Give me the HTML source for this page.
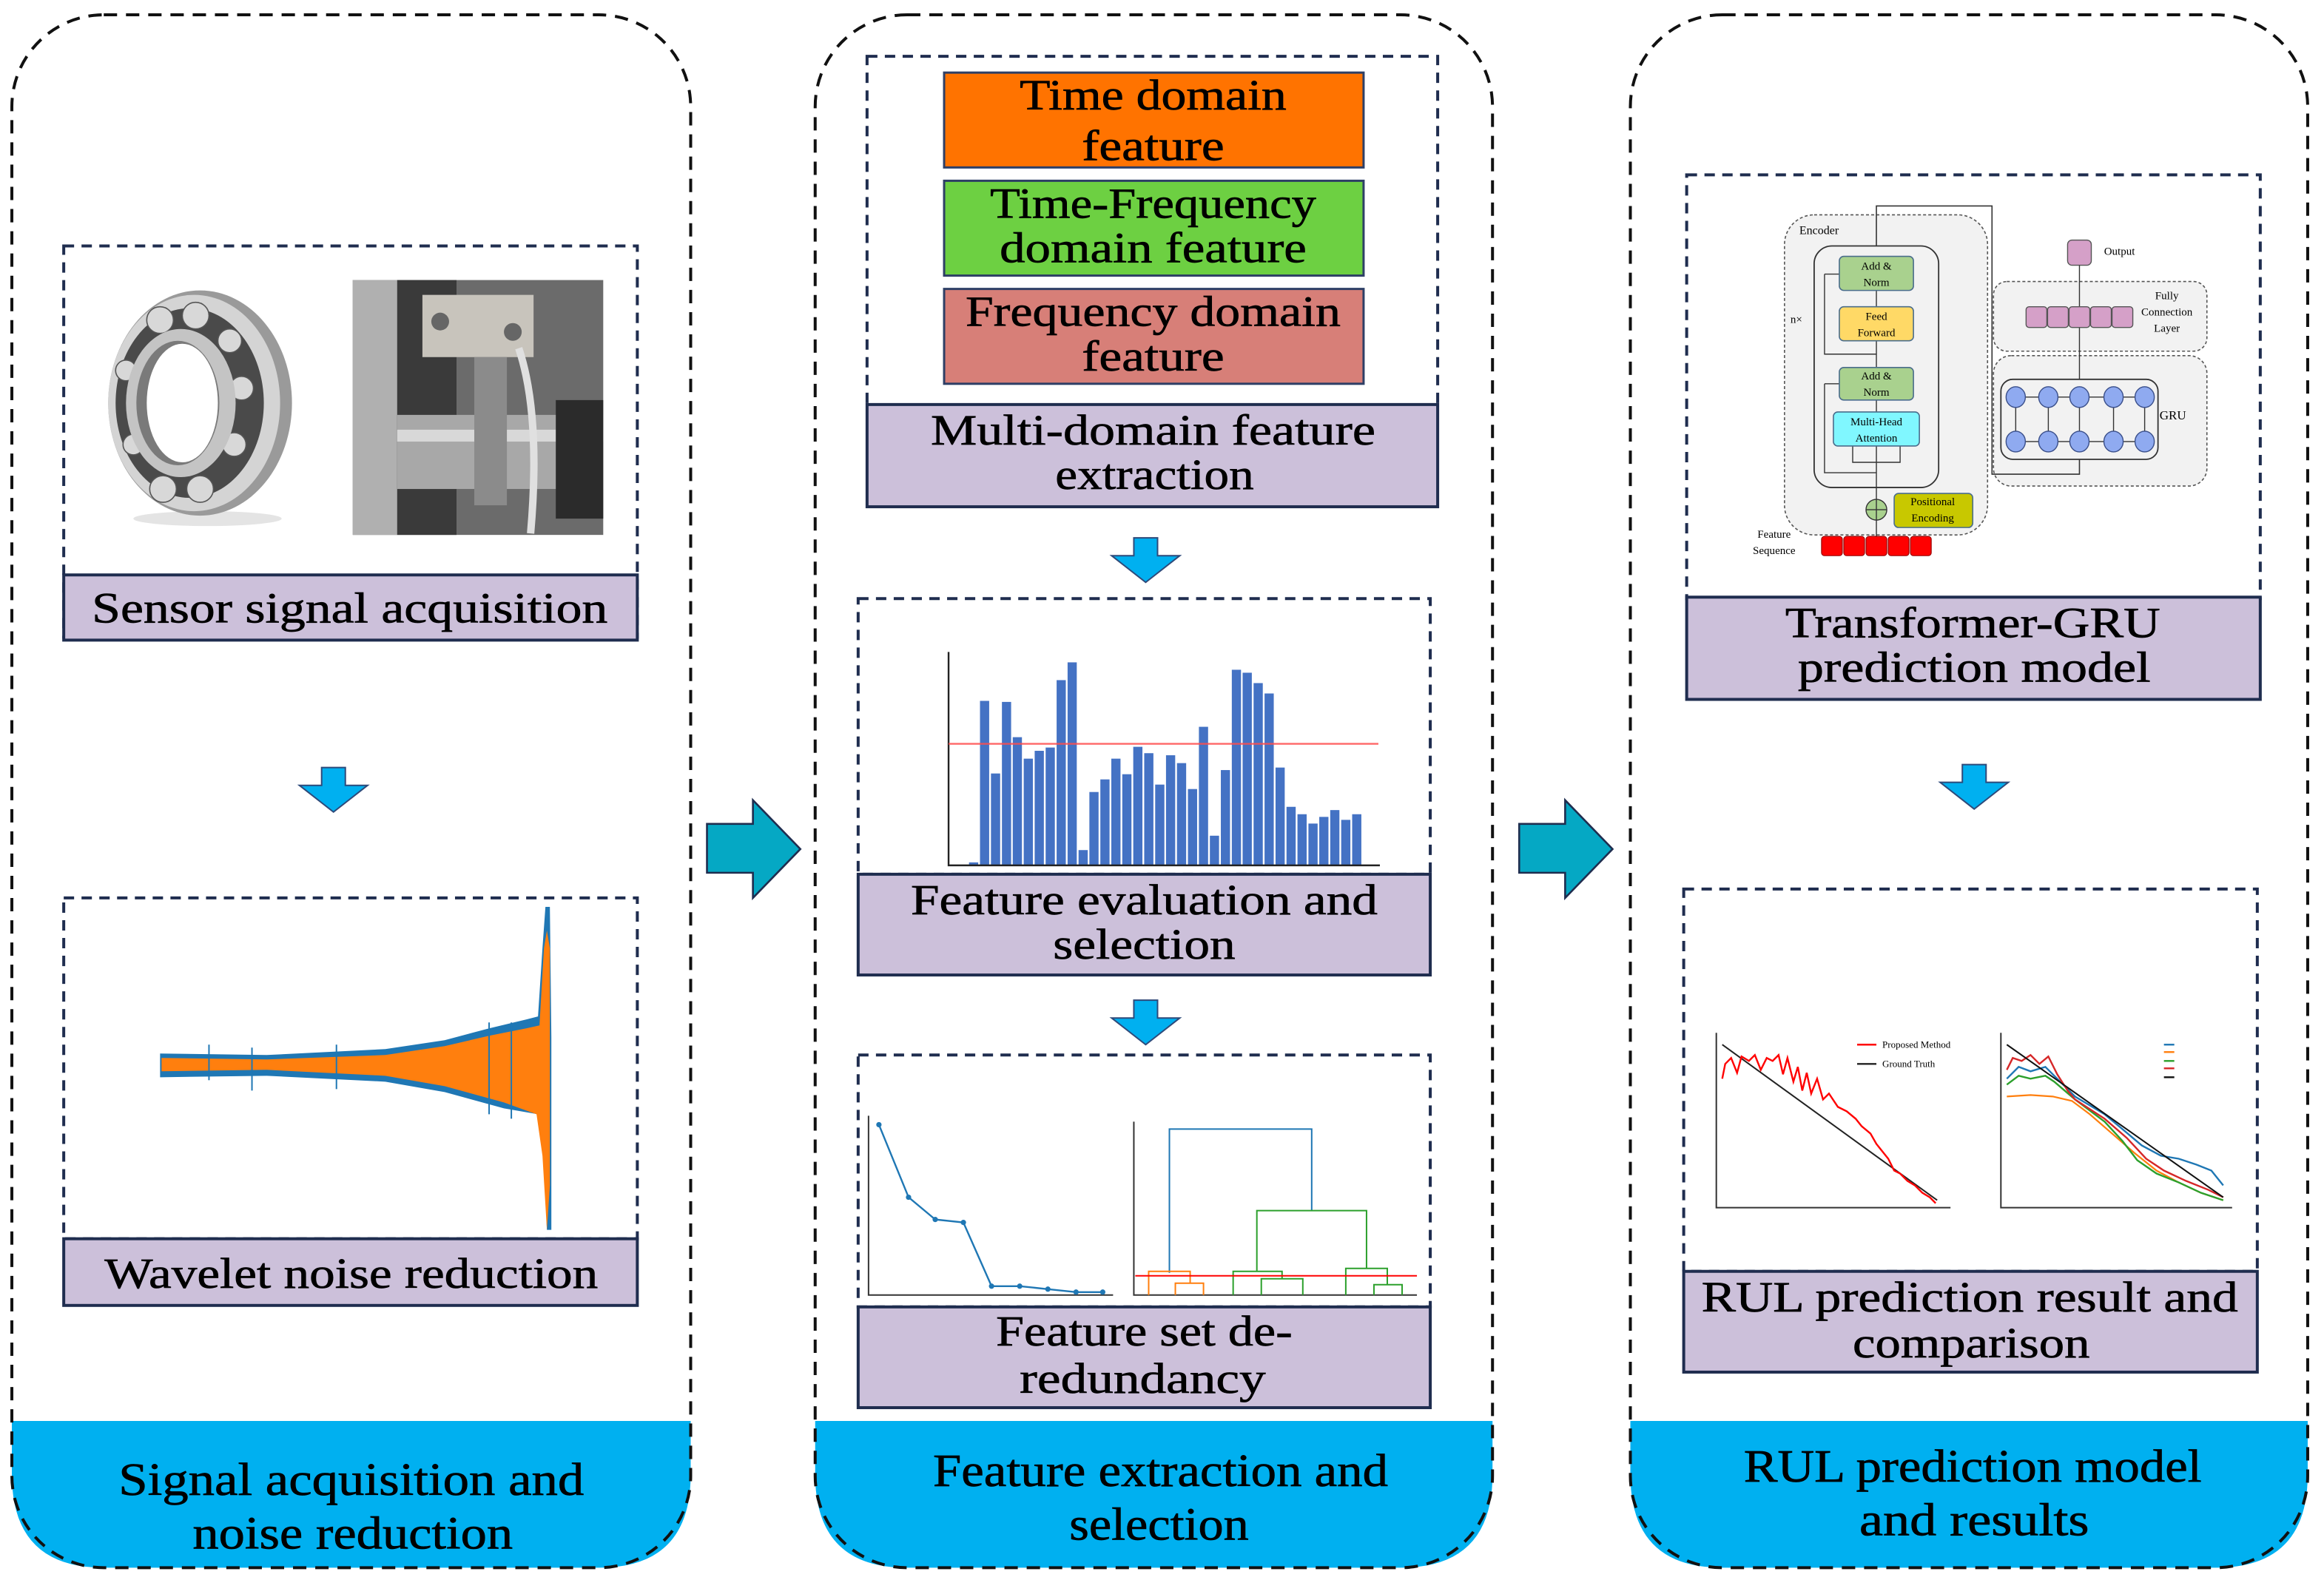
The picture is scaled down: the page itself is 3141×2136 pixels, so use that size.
<!DOCTYPE html>
<html><head><meta charset="utf-8"><style>
html,body{margin:0;padding:0;background:#fff;}
svg{display:block;}
text{font-family:"Liberation Serif",serif;fill:#000;}
text[font-size="29"],text[font-size="31"]{stroke:#000;stroke-width:0.35;}
</style></head><body>
<svg width="3141" height="2136" viewBox="0 0 1568 1066.3" preserveAspectRatio="none" xmlns="http://www.w3.org/2000/svg">
<defs>
<g id="dn"><path d="M-8,0 H8 V12 H23 L0,30 L-23,12 H-8 Z" fill="#00b0f0" stroke="#2e4a7a" stroke-width="1"/></g>
<g id="rt"><path d="M0,16 H31 V0 L63,33 L31,66 V49 H0 Z" fill="#05a8c4" stroke="#1f2d4f" stroke-width="1.3"/></g>
</defs>

<g>
<path d="M8,959 H466 V995 Q466,1058 404,1058 H70 Q8,1058 8,995 Z" fill="#00b0f0"/>
<path d="M550,959 H1007 V995 Q1007,1058 945,1058 H612 Q550,1058 550,995 Z" fill="#00b0f0"/>
<path d="M1100,959 H1557 V995 Q1557,1058 1495,1058 H1162 Q1100,1058 1100,995 Z" fill="#00b0f0"/>
</g>
<g fill="none" stroke="#111" stroke-width="2" stroke-dasharray="9,6">
<rect x="8" y="10" width="458" height="1048" rx="62" ry="62"/>
<rect x="550" y="10" width="457" height="1048" rx="62" ry="62"/>
<rect x="1100" y="10" width="457" height="1048" rx="62" ry="62"/>
</g>
<text x="237" y="1009" font-size="31" text-anchor="middle" textLength="314" lengthAdjust="spacingAndGlyphs">Signal acquisition and</text>
<text x="238" y="1045" font-size="31" text-anchor="middle" textLength="216" lengthAdjust="spacingAndGlyphs">noise reduction</text>
<text x="783" y="1003" font-size="31" text-anchor="middle" textLength="307" lengthAdjust="spacingAndGlyphs">Feature extraction and</text>
<text x="782" y="1039" font-size="31" text-anchor="middle" textLength="121" lengthAdjust="spacingAndGlyphs">selection</text>
<text x="1331" y="1000" font-size="31" text-anchor="middle" textLength="309" lengthAdjust="spacingAndGlyphs">RUL prediction model</text>
<text x="1332" y="1036" font-size="31" text-anchor="middle" textLength="155" lengthAdjust="spacingAndGlyphs">and results</text>

<use href="#rt" x="477" y="540"/>
<use href="#rt" x="1025" y="540"/>

<!-- PANEL 1 -->
<rect x="43" y="166" width="387" height="264" fill="none" stroke="#1f2d4f" stroke-width="2" stroke-dasharray="7,5"/>
<ellipse cx="140" cy="350" rx="50" ry="5" fill="#e4e4e4"/>
<ellipse cx="135" cy="272" rx="62" ry="76" fill="#9a9a9a"/>
<ellipse cx="131" cy="272" rx="58" ry="73" fill="#d4d4d4"/>
<ellipse cx="128" cy="272" rx="50" ry="64" fill="#4a4a4a"/>
<g fill="#d8d8d8" stroke="#555" stroke-width="0.8">
<circle cx="108" cy="216" r="9"/><circle cx="132" cy="213" r="9"/><circle cx="155" cy="230" r="8"/><circle cx="163" cy="262" r="8"/><circle cx="158" cy="300" r="8"/><circle cx="135" cy="330" r="9"/><circle cx="110" cy="330" r="9"/><circle cx="90" cy="300" r="7"/><circle cx="85" cy="250" r="7"/>
</g>
<ellipse cx="122" cy="272" rx="37" ry="50" fill="#c4c4c4"/>
<ellipse cx="120" cy="272" rx="28" ry="42" fill="#7a7a7a"/>
<ellipse cx="123" cy="272" rx="24" ry="40" fill="#fff"/>
<rect x="238" y="189" width="169" height="172" fill="#6b6b6b"/>
<rect x="238" y="189" width="30" height="172" fill="#b0b0b0"/>
<rect x="268" y="189" width="40" height="172" fill="#3a3a3a"/>
<rect x="268" y="280" width="139" height="50" fill="#a8a8a8"/>
<rect x="268" y="290" width="139" height="8" fill="#d8d8d8"/>
<rect x="285" y="199" width="75" height="42" fill="#c8c4bc"/>
<circle cx="297" cy="217" r="6" fill="#666"/><circle cx="346" cy="224" r="6" fill="#666"/>
<rect x="320" y="241" width="22" height="100" fill="#8b8b8b"/>
<path d="M350,235 Q365,280 358,360" stroke="#e0e0e0" stroke-width="5" fill="none"/>
<rect x="375" y="270" width="32" height="80" fill="#2b2b2b"/>
<rect x="43" y="388" width="387" height="44" fill="#ccc0da" stroke="#1f2d4f" stroke-width="2"/>
<text x="236" y="420" font-size="29" text-anchor="middle" textLength="348" lengthAdjust="spacingAndGlyphs">Sensor signal acquisition</text>

<use href="#dn" x="225" y="518"/>

<rect x="43" y="606" width="387" height="230" fill="none" stroke="#1f2d4f" stroke-width="2" stroke-dasharray="7,5"/>
<path d="M108,711 L180,712 L260,708 L300,702 L330,694 L355,688 L363,686 L366,640 L368,612 L371,612 L372,700 L372,830 L369,830 L366,760 L363,752 L340,748 L300,737 L260,730 L180,726 L108,727 Z" fill="#1f77b4"/>
<path d="M109,714 L180,715 L260,712 L300,706 L330,699 L355,694 L364,692 L367,640 L369,628 L371,640 L371,800 L369,830 L366,780 L362,752 L340,744 L300,733 L260,726 L180,722 L109,723 Z" fill="#ff7f0e"/>
<g stroke="#1f77b4" stroke-width="1"><line x1="141" y1="705" x2="141" y2="729"/><line x1="170" y1="707" x2="170" y2="736"/><line x1="227" y1="705" x2="227" y2="735"/><line x1="330" y1="690" x2="330" y2="752"/><line x1="345" y1="690" x2="345" y2="755"/></g>
<rect x="43" y="836" width="387" height="45" fill="#ccc0da" stroke="#1f2d4f" stroke-width="2"/>
<text x="237" y="869" font-size="29" text-anchor="middle" textLength="333" lengthAdjust="spacingAndGlyphs">Wavelet noise reduction</text>

<!-- PANEL 2 -->
<rect x="585" y="38" width="385" height="236" fill="none" stroke="#1f2d4f" stroke-width="2" stroke-dasharray="7,5"/>
<rect x="637" y="49" width="283" height="64" fill="#ff7300" stroke="#2e3f66" stroke-width="1.5"/>
<text x="778" y="74" font-size="29" text-anchor="middle" textLength="180" lengthAdjust="spacingAndGlyphs">Time domain</text>
<text x="778" y="108" font-size="29" text-anchor="middle" textLength="96" lengthAdjust="spacingAndGlyphs">feature</text>
<rect x="637" y="122" width="283" height="64" fill="#6dd042" stroke="#2e3f66" stroke-width="1.5"/>
<text x="778" y="147" font-size="29" text-anchor="middle" textLength="220" lengthAdjust="spacingAndGlyphs">Time-Frequency</text>
<text x="778" y="177" font-size="29" text-anchor="middle" textLength="207" lengthAdjust="spacingAndGlyphs">domain feature</text>
<rect x="637" y="195" width="283" height="64" fill="#d77f78" stroke="#2e3f66" stroke-width="1.5"/>
<text x="778" y="220" font-size="29" text-anchor="middle" textLength="253" lengthAdjust="spacingAndGlyphs">Frequency domain</text>
<text x="778" y="250" font-size="29" text-anchor="middle" textLength="96" lengthAdjust="spacingAndGlyphs">feature</text>
<rect x="585" y="273" width="385" height="69" fill="#ccc0da" stroke="#1f2d4f" stroke-width="2"/>
<text x="778" y="300" font-size="29" text-anchor="middle" textLength="300" lengthAdjust="spacingAndGlyphs">Multi-domain feature</text>
<text x="779" y="330" font-size="29" text-anchor="middle" textLength="134" lengthAdjust="spacingAndGlyphs">extraction</text>

<use href="#dn" x="773" y="363"/>

<rect x="579" y="404" width="386" height="186" fill="none" stroke="#1f2d4f" stroke-width="2" stroke-dasharray="7,5"/>
<g fill="#4472c4">
<rect x="653.8" y="582" width="6.2" height="2"/><rect x="661.2" y="473" width="6.2" height="111"/><rect x="668.6" y="522" width="6.2" height="62"/><rect x="676" y="473.7" width="6.2" height="110.3"/><rect x="683.3" y="497.5" width="6.2" height="86.5"/><rect x="690.7" y="512" width="6.2" height="72"/><rect x="698.1" y="506.7" width="6.2" height="77.3"/><rect x="705.5" y="504.5" width="6.2" height="79.5"/><rect x="712.9" y="459" width="6.2" height="125"/><rect x="720.3" y="447" width="6.2" height="137"/><rect x="727.7" y="573.7" width="6.2" height="10.3"/><rect x="735" y="534.5" width="6.2" height="49.5"/><rect x="742.4" y="526" width="6.2" height="58"/><rect x="749.8" y="512" width="6.2" height="72"/><rect x="757.2" y="522.5" width="6.2" height="61.5"/><rect x="764.6" y="504" width="6.2" height="80"/><rect x="772" y="508.3" width="6.2" height="75.7"/><rect x="779.4" y="529.5" width="6.2" height="54.5"/><rect x="786.7" y="509.7" width="6.2" height="74.3"/><rect x="794.1" y="515" width="6.2" height="69"/><rect x="801.5" y="532.5" width="6.2" height="51.5"/><rect x="808.9" y="490.5" width="6.2" height="93.5"/><rect x="816.3" y="564" width="6.2" height="20"/><rect x="823.7" y="519.7" width="6.2" height="64.3"/><rect x="831.1" y="452" width="6.2" height="132"/><rect x="838.4" y="454" width="6.2" height="130"/><rect x="845.8" y="461" width="6.2" height="123"/><rect x="853.2" y="468" width="6.2" height="116"/><rect x="860.6" y="518" width="6.2" height="66"/><rect x="868" y="544.5" width="6.2" height="39.5"/><rect x="875.4" y="549.5" width="6.2" height="34.5"/><rect x="882.8" y="555.8" width="6.2" height="28.2"/><rect x="890.1" y="551.3" width="6.2" height="32.7"/><rect x="897.5" y="546.7" width="6.2" height="37.3"/><rect x="904.9" y="553.3" width="6.2" height="30.7"/><rect x="912.3" y="549.5" width="6.2" height="34.5"/>
</g>
<path d="M640,440 V584 H931" fill="none" stroke="#222" stroke-width="1.2"/>
<line x1="640" y1="502" x2="930" y2="502" stroke="#ff4d4d" stroke-width="1.2" opacity="0.85"/>
<rect x="579" y="590" width="386" height="68" fill="#ccc0da" stroke="#1f2d4f" stroke-width="2"/>
<text x="772" y="617" font-size="29" text-anchor="middle" textLength="315" lengthAdjust="spacingAndGlyphs">Feature evaluation and</text>
<text x="772" y="647" font-size="29" text-anchor="middle" textLength="123" lengthAdjust="spacingAndGlyphs">selection</text>

<use href="#dn" x="773" y="675"/>

<rect x="579" y="712" width="386" height="170" fill="none" stroke="#1f2d4f" stroke-width="2" stroke-dasharray="7,5"/>
<path d="M586,753 V874 H751" fill="none" stroke="#333" stroke-width="1"/>
<polyline points="593,759 613,808 631,823 650,825 669,868 688,868 707,870 726,872 744,872" fill="none" stroke="#1f77b4" stroke-width="1.2"/>
<g fill="#1f77b4"><circle cx="593" cy="759" r="1.8"/><circle cx="613" cy="808" r="1.8"/><circle cx="631" cy="823" r="1.8"/><circle cx="650" cy="825" r="1.8"/><circle cx="669" cy="868" r="1.8"/><circle cx="688" cy="868" r="1.8"/><circle cx="707" cy="870" r="1.8"/><circle cx="726" cy="872" r="1.8"/><circle cx="744" cy="872" r="1.8"/></g>
<path d="M765,757 V874 H956" fill="none" stroke="#333" stroke-width="1"/>
<path d="M789,859 V762 H885 V817" fill="none" stroke="#1f77b4" stroke-width="1"/>
<g fill="none" stroke="#2ca02c" stroke-width="1">
<path d="M848,858 V817 H922 V856"/>
<path d="M832,874 V858 H865 V863"/><path d="M851,874 V863 H879 V874"/>
<path d="M908,874 V856 H936 V867"/><path d="M927,874 V867 H946 V874"/>
</g>
<g fill="none" stroke="#ff7f0e" stroke-width="1">
<path d="M775,874 V858 H803 V866"/><path d="M793,874 V866 H812 V874"/>
</g>
<line x1="766" y1="861" x2="956" y2="861" stroke="#ff0000" stroke-width="1"/>
<rect x="579" y="882" width="386" height="68" fill="#ccc0da" stroke="#1f2d4f" stroke-width="2"/>
<text x="772" y="908" font-size="29" text-anchor="middle" textLength="200" lengthAdjust="spacingAndGlyphs">Feature set de-</text>
<text x="771" y="940" font-size="29" text-anchor="middle" textLength="166" lengthAdjust="spacingAndGlyphs">redundancy</text>

<!-- PANEL 3 -->
<rect x="1138" y="118" width="387" height="286" fill="none" stroke="#1f2d4f" stroke-width="2" stroke-dasharray="7,5"/>
<rect x="1204" y="145" width="137" height="216" rx="20" fill="#f2f2f2" stroke="#555" stroke-width="0.8" stroke-dasharray="2,1.5"/>
<rect x="1345" y="190" width="144" height="47" rx="9" fill="#f2f2f2" stroke="#555" stroke-width="0.8" stroke-dasharray="2,1.5"/>
<rect x="1345" y="240" width="144" height="88" rx="12" fill="#f2f2f2" stroke="#555" stroke-width="0.8" stroke-dasharray="2,1.5"/>
<rect x="1224" y="166" width="84" height="163" rx="12" fill="none" stroke="#333" stroke-width="0.9"/>
<path d="M1266,166 V139 H1344 V320 H1403 V310" fill="none" stroke="#333" stroke-width="0.8"/>
<path d="M1266,366 V196 M1231,185 H1241 M1231,185 V239 H1266 M1231,259 H1241 M1231,259 V319 H1266 M1250,301 V312 H1282 V301" fill="none" stroke="#333" stroke-width="0.7"/>
<rect x="1241" y="173" width="50" height="23" rx="3" fill="#a9d18e" stroke="#4a6d8c" stroke-width="0.8"/>
<rect x="1241" y="207" width="50" height="23" rx="3" fill="#ffd966" stroke="#4a6d8c" stroke-width="0.8"/>
<rect x="1241" y="248" width="50" height="22" rx="3" fill="#a9d18e" stroke="#4a6d8c" stroke-width="0.8"/>
<rect x="1237" y="278" width="58" height="23" rx="3" fill="#80f7ff" stroke="#4a6d8c" stroke-width="0.8"/>
<rect x="1278" y="333" width="53" height="23" rx="3" fill="#c8c800" stroke="#4a6d8c" stroke-width="0.8"/>
<circle cx="1266" cy="344" r="7" fill="#a9d18e" stroke="#333" stroke-width="0.7"/>
<path d="M1259,344 H1273 M1266,337 V351" stroke="#333" stroke-width="0.7"/>
<g font-size="7.5" text-anchor="middle">
<text x="1266" y="182">Add &amp;</text><text x="1266" y="193">Norm</text>
<text x="1266" y="216">Feed</text><text x="1266" y="227">Forward</text>
<text x="1266" y="256">Add &amp;</text><text x="1266" y="267">Norm</text>
<text x="1266" y="287">Multi-Head</text><text x="1266" y="298">Attention</text>
<text x="1304" y="341">Positional</text><text x="1304" y="352">Encoding</text>
<text x="1197" y="363">Feature</text><text x="1197" y="374">Sequence</text>
<text x="1430" y="172">Output</text>
<text x="1462" y="202">Fully</text><text x="1462" y="213">Connection</text><text x="1462" y="224">Layer</text>
<text x="1466" y="283" font-size="8.5">GRU</text>
<text x="1212" y="218">n×</text>
</g>
<text x="1214" y="158" font-size="8">Encoder</text>
<g fill="#ff0000" stroke="#900" stroke-width="0.6">
<rect x="1229" y="362" width="14" height="13" rx="2"/><rect x="1244" y="362" width="14" height="13" rx="2"/><rect x="1259" y="362" width="14" height="13" rx="2"/><rect x="1274" y="362" width="14" height="13" rx="2"/><rect x="1289" y="362" width="14" height="13" rx="2"/>
</g>
<rect x="1395" y="162" width="16" height="17" rx="3" fill="#d5a0c8" stroke="#555" stroke-width="0.7"/>
<line x1="1403" y1="179" x2="1403" y2="256" stroke="#333" stroke-width="0.7"/>
<g fill="#d5a0c8" stroke="#555" stroke-width="0.7">
<rect x="1367" y="207" width="14" height="14" rx="2"/><rect x="1381.5" y="207" width="14" height="14" rx="2"/><rect x="1396" y="207" width="14" height="14" rx="2"/><rect x="1410.5" y="207" width="14" height="14" rx="2"/><rect x="1425" y="207" width="14" height="14" rx="2"/>
</g>
<rect x="1350" y="256" width="106" height="54" rx="8" fill="none" stroke="#333" stroke-width="0.9"/>
<g stroke="#333" stroke-width="0.7"><line x1="1360" y1="268" x2="1447" y2="268"/><line x1="1360" y1="298" x2="1447" y2="298"/><line x1="1360" y1="268" x2="1360" y2="298"/><line x1="1382" y1="268" x2="1382" y2="298"/><line x1="1403" y1="268" x2="1403" y2="298"/><line x1="1426" y1="268" x2="1426" y2="298"/><line x1="1447" y1="268" x2="1447" y2="298"/></g>
<g fill="#8faaf0" stroke="#3a4f8a" stroke-width="0.7">
<ellipse cx="1360" cy="268" rx="6.5" ry="7"/><ellipse cx="1382" cy="268" rx="6.5" ry="7"/><ellipse cx="1403" cy="268" rx="6.5" ry="7"/><ellipse cx="1426" cy="268" rx="6.5" ry="7"/><ellipse cx="1447" cy="268" rx="6.5" ry="7"/>
<ellipse cx="1360" cy="298" rx="6.5" ry="7"/><ellipse cx="1382" cy="298" rx="6.5" ry="7"/><ellipse cx="1403" cy="298" rx="6.5" ry="7"/><ellipse cx="1426" cy="298" rx="6.5" ry="7"/><ellipse cx="1447" cy="298" rx="6.5" ry="7"/>
</g>
<rect x="1138" y="403" width="387" height="69" fill="#ccc0da" stroke="#1f2d4f" stroke-width="2"/>
<text x="1331" y="430" font-size="29" text-anchor="middle" textLength="253" lengthAdjust="spacingAndGlyphs">Transformer-GRU</text>
<text x="1332" y="460" font-size="29" text-anchor="middle" textLength="238" lengthAdjust="spacingAndGlyphs">prediction model</text>

<use href="#dn" x="1332" y="516"/>

<rect x="1136" y="600" width="387" height="258" fill="none" stroke="#1f2d4f" stroke-width="2" stroke-dasharray="7,5"/>
<path d="M1158,697 V815 H1316" fill="none" stroke="#333" stroke-width="1"/>
<line x1="1162" y1="705" x2="1307" y2="810" stroke="#222" stroke-width="1"/>
<polyline points="1162,728 1164,718 1168,714 1172,724 1175,713 1180,716 1184,712 1188,722 1192,714 1196,716 1200,712 1203,725 1206,714 1210,730 1213,720 1216,736 1219,724 1222,738 1226,728 1230,742 1234,738 1240,747 1246,750 1252,755 1256,760 1262,765 1266,772 1270,777 1274,782 1278,790 1282,792 1287,797 1292,800 1297,805 1302,808 1306,812" fill="none" stroke="#ff0000" stroke-width="1.2"/>
<line x1="1253" y1="705" x2="1266" y2="705" stroke="#ff0000" stroke-width="1.2"/>
<line x1="1253" y1="718" x2="1266" y2="718" stroke="#222" stroke-width="1.2"/>
<text x="1270" y="707" font-size="6.5">Proposed Method</text>
<text x="1270" y="720" font-size="6.5">Ground Truth</text>
<path d="M1350,697 V815 H1506" fill="none" stroke="#333" stroke-width="1"/>
<polyline points="1354,740 1370,739 1385,740 1398,743 1410,752 1425,765 1440,778 1455,790 1470,798 1485,805 1500,810" fill="none" stroke="#ff7f0e" stroke-width="1.1"/>
<polyline points="1354,728 1362,720 1370,723 1380,720 1386,726 1400,740 1420,752 1432,762 1445,773 1458,780 1470,782 1482,786 1492,790 1500,800" fill="none" stroke="#1f77b4" stroke-width="1.2"/>
<polyline points="1354,732 1362,726 1370,728 1380,726 1386,730 1400,742 1420,757 1432,770 1442,783 1455,792 1470,798 1485,805 1500,810" fill="none" stroke="#2ca02c" stroke-width="1.2"/>
<polyline points="1354,722 1358,714 1364,716 1370,712 1376,718 1382,713 1388,725 1395,736 1400,742 1420,755 1435,768 1448,782 1460,790 1475,797 1490,803 1500,808" fill="none" stroke="#d62728" stroke-width="1.2"/>
<line x1="1354" y1="705" x2="1500" y2="808" stroke="#111" stroke-width="1"/>
<g stroke-width="1.2"><line x1="1460" y1="705" x2="1467" y2="705" stroke="#1f77b4"/><line x1="1460" y1="710" x2="1467" y2="710" stroke="#ff7f0e"/><line x1="1460" y1="716" x2="1467" y2="716" stroke="#2ca02c"/><line x1="1460" y1="721" x2="1467" y2="721" stroke="#d62728"/><line x1="1460" y1="727" x2="1467" y2="727" stroke="#111"/></g>
<rect x="1136" y="858" width="387" height="68" fill="#ccc0da" stroke="#1f2d4f" stroke-width="2"/>
<text x="1329" y="885" font-size="29" text-anchor="middle" textLength="362" lengthAdjust="spacingAndGlyphs">RUL prediction result and</text>
<text x="1330" y="916" font-size="29" text-anchor="middle" textLength="160" lengthAdjust="spacingAndGlyphs">comparison</text>
</svg>
</body></html>
